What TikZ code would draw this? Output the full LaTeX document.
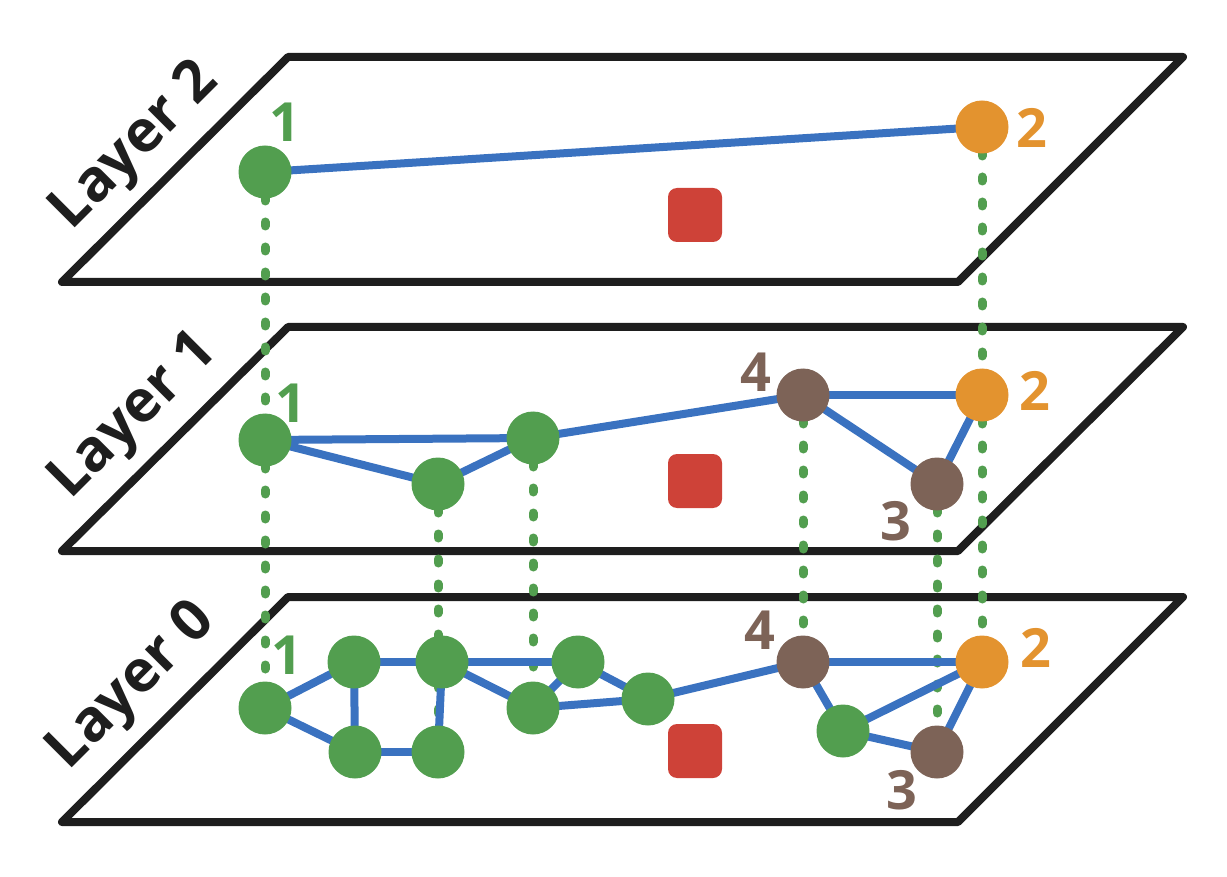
\documentclass[tikz,border=0pt]{standalone}
\usepackage{fontspec}
\setmainfont{Open Sans}
\definecolor{cgreen}{RGB}{82,158,79}
\definecolor{cblue}{RGB}{58,114,192}
\definecolor{corange}{RGB}{227,147,47}
\definecolor{cbrown}{RGB}{125,99,87}
\definecolor{cred}{RGB}{206,66,56}
\definecolor{cblack}{RGB}{30,30,30}
\tikzset{
  plane/.style={draw=cblack, line width=8pt, line join=round, line cap=round},
  gnode/.style={circle, fill=cgreen, inner sep=0pt, minimum size=53pt},
  onode/.style={circle, fill=corange, inner sep=0pt, minimum size=53pt},
  bnode/.style={circle, fill=cbrown, inner sep=0pt, minimum size=53pt},
  redsq/.style={rectangle, rounded corners=9pt, fill=cred, inner sep=0pt, minimum size=54pt},
  edge/.style={draw=cblue, line width=8pt},
  dotline/.style={draw=cgreen, line width=9pt, line cap=round, dash pattern=on 4pt off 21pt},
  lbl/.style={font=\fontsize{54}{58}\selectfont\bfseries},
  layerlbl/.style={font=\fontsize{58}{64}\selectfont\bfseries, text=cblack, rotate=45}
}
\begin{document}
\begin{tikzpicture}[x=1pt,y=-1pt]
\useasboundingbox (0,0) rectangle (1227,877);
% planes
\draw[plane] (288,57) -- (1183,57) -- (958,282) -- (62,282) -- cycle;
\draw[plane] (288,327) -- (1183,327) -- (958,551) -- (62,551) -- cycle;
\draw[plane] (288,597) -- (1183,597) -- (958,822) -- (62,822) -- cycle;
% layer labels
\node[layerlbl] (t2) at (136,147) {Layer 2};
\node[layerlbl] (t1) at (135,417) {Layer 1};
\node[layerlbl] (t0) at (133,687) {Layer 0};
% red squares
\node[redsq] (r2) at (695,215) {};
\node[redsq] (r1) at (695,481) {};
\node[redsq] (r0) at (695,751) {};
% node coordinates
\coordinate (A1) at (265,172);
\coordinate (A2) at (982,127);
\coordinate (B1) at (265,440);
\coordinate (Bg1) at (438,484);
\coordinate (Bg2) at (533,438);
\coordinate (B4) at (803,395);
\coordinate (B2) at (982,395);
\coordinate (B3) at (937,484);
\coordinate (C1) at (265,708);
\coordinate (Ca) at (354,662);
\coordinate (Cb) at (442,662);
\coordinate (Cc) at (578,662);
\coordinate (Cd) at (533,708);
\coordinate (Ce) at (648,699);
\coordinate (Cf) at (355,752);
\coordinate (Cg) at (438,752);
\coordinate (C4) at (803,662);
\coordinate (C2) at (982,662);
\coordinate (Ch) at (843,731);
\coordinate (C3) at (937,752);
% dotted verticals
\draw[dotline] (A1) -- (B1);
\draw[dotline] (B1) -- (C1);
\draw[dotline] (A2) -- (B2);
\draw[dotline] (B2) -- (C2);
\draw[dotline] (Bg1) -- (Cg);
\draw[dotline] (Bg2) -- (Cd);
\draw[dotline] (B4) -- (C4);
\draw[dotline] (B3) -- (C3);
% edges
\draw[edge] (A1) -- (A2);
\draw[edge] (B1) -- (Bg2);
\draw[edge] (B1) -- (Bg1);
\draw[edge] (Bg1) -- (Bg2);
\draw[edge] (Bg2) -- (B4);
\draw[edge] (B4) -- (B2);
\draw[edge] (B4) -- (B3);
\draw[edge] (B3) -- (B2);
\draw[edge] (C1) -- (Ca);
\draw[edge] (C1) -- (Cf);
\draw[edge] (Ca) -- (Cb);
\draw[edge] (Ca) -- (Cf);
\draw[edge] (Cf) -- (Cg);
\draw[edge] (Cb) -- (Cg);
\draw[edge] (Cb) -- (Cc);
\draw[edge] (Cb) -- (Cd);
\draw[edge] (Cd) -- (Cc);
\draw[edge] (Cc) -- (Ce);
\draw[edge] (Cd) -- (Ce);
\draw[edge] (Ce) -- (C4);
\draw[edge] (C4) -- (C2);
\draw[edge] (C4) -- (Ch);
\draw[edge] (Ch) -- (C2);
\draw[edge] (Ch) -- (C3);
\draw[edge] (C3) -- (C2);
% nodes
\node[gnode] (n-A1) at (A1) {};
\node[onode] (n-A2) at (A2) {};
\node[gnode] (n-B1) at (B1) {};
\node[gnode] (n-Bg1) at (Bg1) {};
\node[gnode] (n-Bg2) at (Bg2) {};
\node[bnode] (n-B4) at (B4) {};
\node[onode] (n-B2) at (B2) {};
\node[bnode] (n-B3) at (B3) {};
\node[gnode] (n-C1) at (C1) {};
\node[gnode] (n-Ca) at (Ca) {};
\node[gnode] (n-Cb) at (Cb) {};
\node[gnode] (n-Cc) at (Cc) {};
\node[gnode] (n-Cd) at (Cd) {};
\node[gnode] (n-Ce) at (Ce) {};
\node[gnode] (n-Cf) at (Cf) {};
\node[gnode] (n-Cg) at (Cg) {};
\node[bnode] (n-C4) at (C4) {};
\node[onode] (n-C2) at (C2) {};
\node[gnode] (n-Ch) at (Ch) {};
\node[bnode] (n-C3) at (C3) {};
% number labels
\node[lbl, text=cgreen] (l-A1) at (285,122) {1};
\node[lbl, text=corange] (l-A2) at (1032,128) {2};
\node[lbl, text=cgreen] (l-B1) at (291,403) {1};
\node[lbl, text=cbrown] (l-B4) at (756,372) {4};
\node[lbl, text=corange] (l-B2) at (1035,391) {2};
\node[lbl, text=cbrown] (l-B3) at (896,521) {3};
\node[lbl, text=cgreen] (l-C1) at (287,655) {1};
\node[lbl, text=cbrown] (l-C4) at (760,630) {4};
\node[lbl, text=corange] (l-C2) at (1036,648) {2};
\node[lbl, text=cbrown] (l-C3) at (902,790) {3};
\end{tikzpicture}
\end{document}
